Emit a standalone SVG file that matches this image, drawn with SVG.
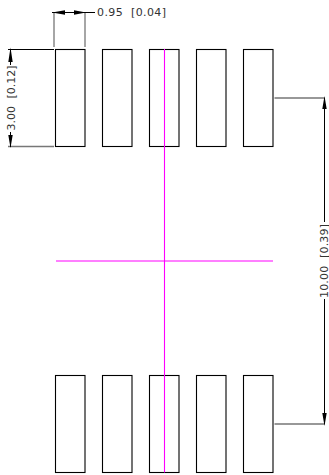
<svg xmlns="http://www.w3.org/2000/svg" width="329" height="475" viewBox="0 0 329 475">
<style>
.pad{fill:#fff;stroke:#000;stroke-width:1.1}
.ext{fill:none;stroke:#777;stroke-width:1.3}
.dim{fill:none;stroke:#000;stroke-width:1}
.ah{fill:#000;stroke:none}
.cl{fill:none;stroke:#f0f;stroke-width:1.1}
text{font-family:"DejaVu Sans",sans-serif;font-size:11px;fill:#333;word-spacing:4px}
</style>
<rect width="329" height="475" fill="#fff"/>
<g id="pads">
<rect id="pad-t1" class="pad" x="55.5" y="49.5" width="29.5" height="97"/>
<rect id="pad-t2" class="pad" x="102.5" y="49.5" width="29.5" height="97"/>
<rect id="pad-t3" class="pad" x="149.5" y="49.5" width="29.5" height="97"/>
<rect id="pad-t4" class="pad" x="196.5" y="49.5" width="29.5" height="97"/>
<rect id="pad-t5" class="pad" x="243.5" y="49.5" width="29.5" height="97"/>
<rect id="pad-b1" class="pad" x="55.5" y="375.5" width="29.5" height="97"/>
<rect id="pad-b2" class="pad" x="102.5" y="375.5" width="29.5" height="97"/>
<rect id="pad-b3" class="pad" x="149.5" y="375.5" width="29.5" height="97"/>
<rect id="pad-b4" class="pad" x="196.5" y="375.5" width="29.5" height="97"/>
<rect id="pad-b5" class="pad" x="243.5" y="375.5" width="29.5" height="97"/>
</g>
<g id="centerlines">
<path class="cl" d="M164.500 49V472.500M56 261H273"/>
</g>
<g id="connectors">
<path class="ext" d="M54 12V47M85 12V47"/>
<path class="dim" d="M52 12.500H95"/>
<path class="ah" d="M52 12.500L65 10.300V14.700ZM86 12.500L74 10.300V14.700Z"/>
<path class="dim" d="M8 49.500H54"/>
<path class="ext" d="M8 146.500H54"/>
<path class="dim" d="M10.500 50V65M10.500 132V147"/>
<path class="ah" d="M10.500 47.500L8.300 62H12.700ZM10.500 148L8.300 135H12.700Z"/>
<path class="ext" d="M274.500 98H325M274.500 424H325"/>
<path class="dim" d="M324.500 98V222M324.500 299V424"/>
<path class="ah" d="M324.500 96L322.300 109H326.700ZM324.500 426L322.300 413H326.700Z"/>
</g>
<g id="labels">
<text x="97" y="16" textLength="69">0.95 [0.04]</text>
<text transform="translate(14.500 130.500) rotate(-90)" textLength="65">3.00 [0.12]</text>
<text transform="translate(327.500 298) rotate(-90)" textLength="74">10.00 [0.39]</text>
</g>
</svg>
